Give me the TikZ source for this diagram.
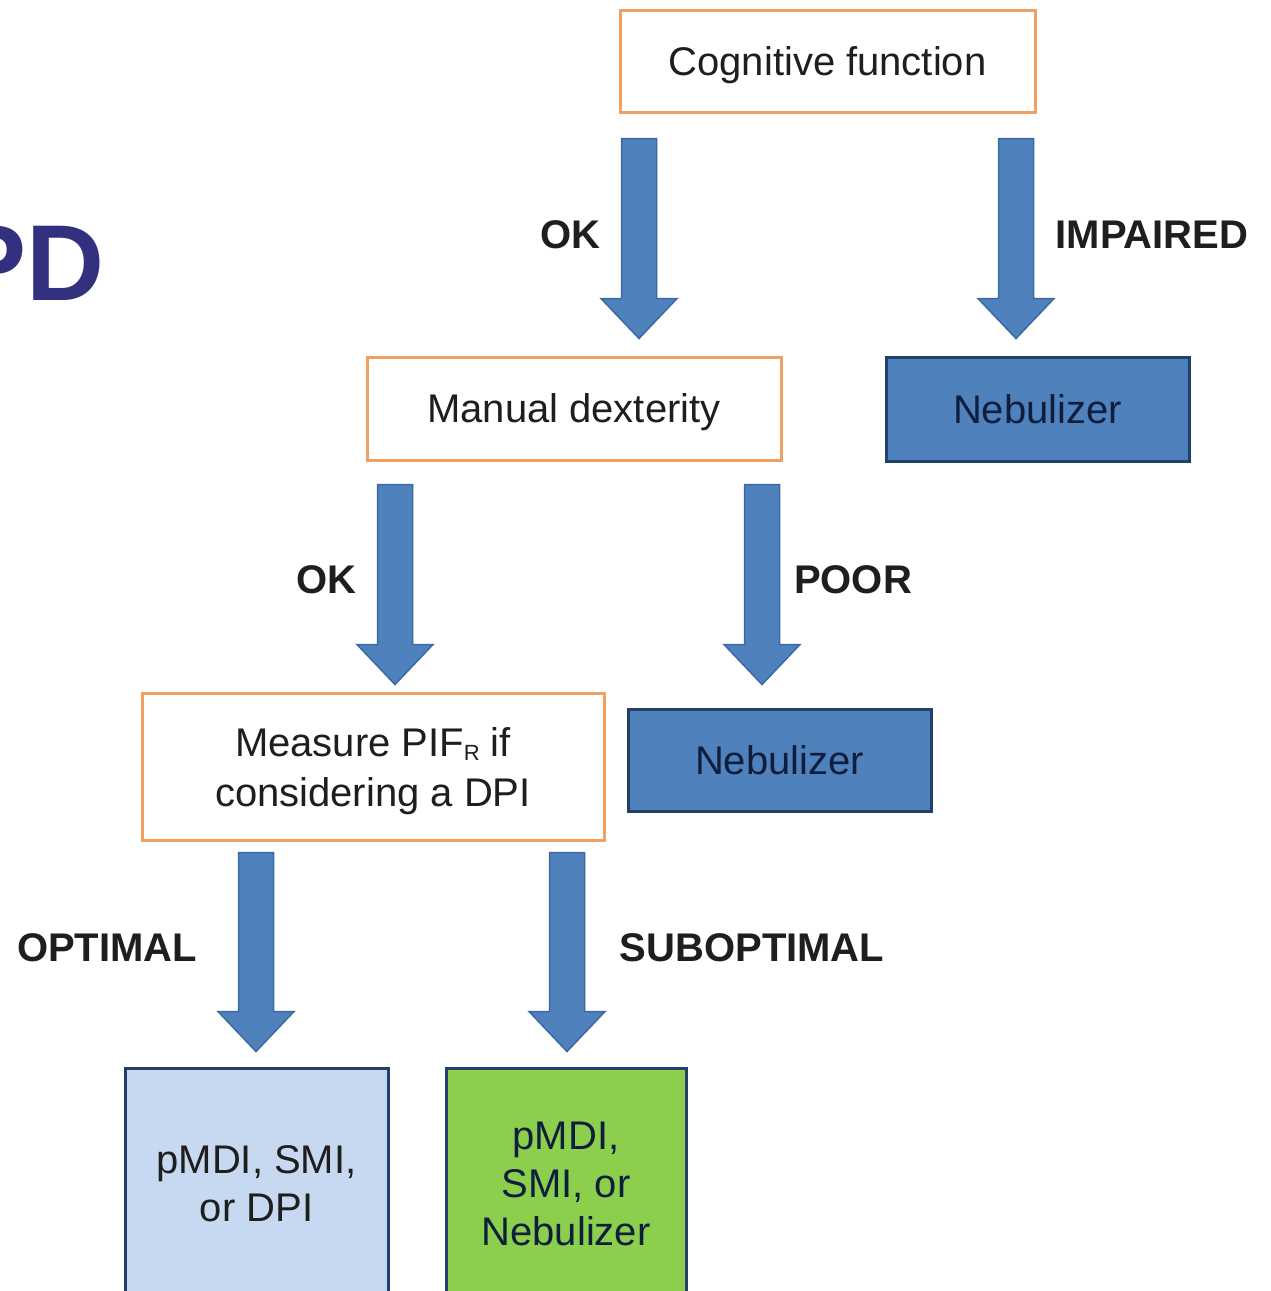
\documentclass[tikz,border=0pt]{standalone}
\usepackage{fontspec}
\setmainfont{Liberation Sans}
\usetikzlibrary{calc}
\definecolor{orangeb}{HTML}{F0A060}
\definecolor{arrowfill}{HTML}{4F81BD}
\definecolor{arrowdraw}{HTML}{3A6AA3}
\definecolor{boxblue}{HTML}{4F81BD}
\definecolor{navy}{HTML}{22406A}
\definecolor{lightblue}{HTML}{C6D9F1}
\definecolor{greenbox}{HTML}{8CCF4D}
\definecolor{pdcol}{HTML}{333080}
\definecolor{txt}{HTML}{1E1E1E}
\definecolor{bluetxt}{HTML}{0F1E3C}
\newcommand\blockarr[5]{%
  \path (#3,0 |- #1.south) ++(0,-#4) coordinate (s) (#3,0 |- #2.north) ++(0,#5) coordinate (t);
  \filldraw[fill=arrowfill,draw=arrowdraw,line width=1.5pt,line join=miter]
    ($(s)+(-17.5,0)$) -- ($(t)+(-17.5,40)$) -- ($(t)+(-38,40)$) -- (t)
    -- ($(t)+(38,40)$) -- ($(t)+(17.5,40)$) -- ($(s)+(17.5,0)$) -- cycle;
}
\begin{document}
\begin{tikzpicture}[x=1pt,y=1pt,
  every node/.style={font=\fontsize{40}{48}\selectfont},
  wbox/.style={draw=orangeb,line width=3pt,fill=white,inner sep=0pt,align=center,text=txt,text depth=0pt},
  bbox/.style={draw=navy,line width=3pt,fill=boxblue,inner sep=0pt,align=center,text=bluetxt},
  lbbox/.style={draw=navy,line width=3pt,fill=lightblue,inner sep=0pt,align=center,text=txt},
  gbox/.style={draw=navy,line width=3pt,fill=greenbox,inner sep=0pt,align=center,text=bluetxt},
  lab/.style={font=\fontsize{40}{48}\selectfont\bfseries,text=txt,inner sep=0pt}]
\clip (0,0) rectangle (1271,-1291);
\fill[white] (0,0) rectangle (1271,-1291);

\node[anchor=base east,inner sep=0pt,text=pdcol,font=\fontsize{108}{120}\selectfont\bfseries] (pd) at (105,-300) {PD};

\node[wbox,minimum width=415,minimum height=102] (cog) at (827.5,-61) {Cognitive function};
\node[wbox,minimum width=414,minimum height=103] (man) at (574,-408.5) {Manual dexterity};
\node[bbox,minimum width=303,minimum height=104] (neb1) at (1037.5,-409) {Nebulizer};
\node[wbox,minimum width=462,minimum height=147] (meas) at (373,-766.5)
  {Measure PIF\raisebox{-0.12em}{\fontsize{22}{22}\selectfont R} if\\[2pt]considering a DPI};
\node[bbox,minimum width=303,minimum height=102] (neb2) at (779.5,-760) {Nebulizer};
\node[lbbox,minimum width=263,minimum height=232] (opt) at (256.5,-1184) {pMDI, SMI,\\or DPI};
\node[gbox,minimum width=240,minimum height=232] (sub) at (566,-1184) {pMDI,\\SMI, or\\Nebulizer};

\blockarr{cog}{man}{639}{25}{17}
\blockarr{cog}{neb1}{1016}{25}{17}
\blockarr{man}{meas}{395}{23}{7}
\blockarr{man}{neb2}{762}{23}{23}
\blockarr{meas}{opt}{256}{11}{15}
\blockarr{meas}{sub}{567}{11}{15}

\node[lab] (l1) at (570,-235) {OK};
\node[lab] (l2) at (1152,-235) {IMPAIRED};
\node[lab] (l3) at (326,-580) {OK};
\node[lab] (l4) at (853,-580) {POOR};
\node[lab] (l5) at (107,-948) {OPTIMAL};
\node[lab] (l6) at (752,-948) {SUBOPTIMAL};
\end{tikzpicture}
\end{document}
